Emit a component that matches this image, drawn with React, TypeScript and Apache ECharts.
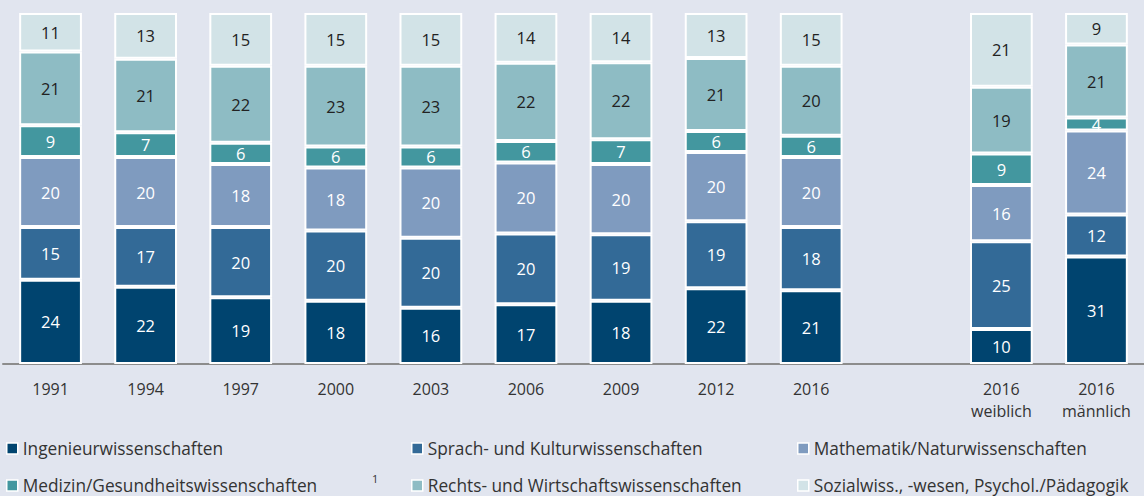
import React, { useEffect, useRef } from "react";
import * as echarts from "echarts";

const categories = ["1991", "1994", "1997", "2000", "2003", "2006", "2009", "2012", "2016", "", "2016\nweiblich", "2016\nmännlich"];

const seriesNames = [
  "Ingenieurwissenschaften",
  "Sprach- und Kulturwissenschaften",
  "Mathematik/Naturwissenschaften",
  "Medizin/Gesundheitswissenschaften",
  "Rechts- und Wirtschaftswissenschaften",
  "Sozialwiss., -wesen, Psychol./Pädagogik",
];

// shares in percent (labels are shown rounded)
const ingenieur = [24, 22, 19, 18, 16, 17, 18, 21.6, 21, null, 10, 30.6];
const sprach = [15, 17, 20, 20, 20, 20.2, 19, 19.1, 18, null, 25, 12];
const mathe = [20, 20, 18, 18, 20, 20.2, 20, 19.7, 20, null, 16, 23.9];
const medizin = [9, 7, 6, 6, 6, 6.1, 7, 6, 6, null, 9, 3.7];
const rechts = [21, 21, 22, 23, 23, 22.3, 22, 20.8, 20, null, 19, 20.8];
const sozial = [11, 13, 15, 15, 15, 14.2, 14, 12.8, 15, null, 21, 9];

const values = [ingenieur, sprach, mathe, medizin, rechts, sozial];
const colors = ["#00446f", "#336a97", "#7f9bbf", "#43979f", "#8ebcc4", "#d2e3e7"];
const labelColors = ["#ffffff", "#ffffff", "#ffffff", "#ffffff", "#222222", "#222222"];

// legend placement: [left, top] for each series
const legendPos = [
  [6, 440],
  [411, 440],
  [797, 440],
  [6, 477],
  [411, 477],
  [797, 477],
];

const FONT = "Open Sans";

export default function App() {
  const ref = useRef<HTMLDivElement>(null);
  useEffect(() => {
    if (!ref.current) return;
    const chart = echarts.init(ref.current, null, { renderer: "svg" });
    chart.setOption({
      animation: false,
      backgroundColor: "#e1e5ef",
      textStyle: { fontFamily: FONT },
      grid: { left: 3, right: -9, top: 13, bottom: 132, containLabel: false },
      legend: seriesNames.map((name, i) => ({
        left: legendPos[i][0],
        top: legendPos[i][1],
        padding: 0,
        icon: "rect",
        itemWidth: 11,
        itemHeight: 11,
        selectedMode: false,
        itemStyle: { borderColor: "#ffffff", borderWidth: 1.5 },
        textStyle: { fontFamily: FONT, fontSize: 17.3, lineHeight: 17, color: "#333333" },
        data: [name],
      })),
      xAxis: {
        type: "category",
        data: categories,
        axisLine: { lineStyle: { color: "#8c8c8c", width: 2 } },
        axisTick: { show: false },
        axisLabel: {
          interval: 0,
          margin: 14,
          fontFamily: FONT,
          fontSize: 16,
          lineHeight: 22,
          color: "#333333",
        },
      },
      yAxis: { type: "value", min: 0, max: 100, show: false, splitLine: { show: false } },
      graphic: [
        {
          type: "text",
          left: 372,
          top: 473,
          style: { text: "1", fontFamily: FONT, fontSize: 11, fill: "#333333" },
        },
      ],
      series: values.map((v, i) => ({
        name: seriesNames[i],
        type: "bar",
        stack: "total",
        barWidth: "66%",
        data: v.map((x) => (x === null ? "-" : x)),
        itemStyle: { color: colors[i], borderColor: "#ffffff", borderWidth: 2 },
        label: {
          show: true,
          position: "inside",
          fontFamily: FONT,
          fontSize: 16.5,
          color: labelColors[i],
          formatter: (p: any) => String(Math.round(p.value)),
        },
      })),
    });
    return () => chart.dispose();
  }, []);
  return (
    <div
      ref={ref}
      style={{ position: "absolute", left: 0, top: 0, width: 1144, height: 496, overflow: "hidden" }}
    />
  );
}
